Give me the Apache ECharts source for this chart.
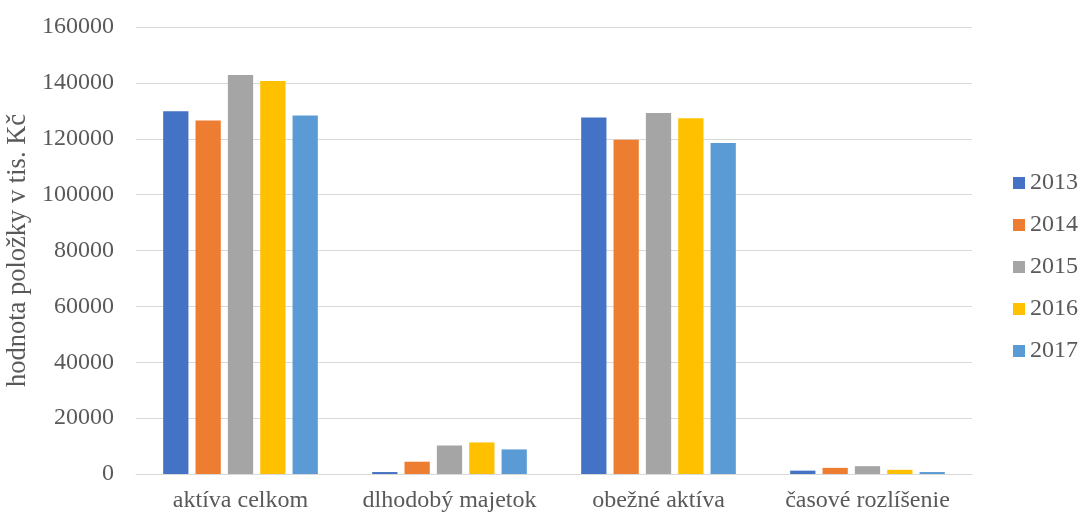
<!DOCTYPE html>
<html>
<head>
<meta charset="utf-8">
<script src="https://cdn.jsdelivr.net/npm/echarts@6/dist/echarts.min.js"></script>
<style>
  html, body { margin: 0; padding: 0; background: #fff; }
  #chart { width: 1082px; height: 513px; }
</style>
</head>
<body>
<div id="chart"></div>
<script>
// Balance sheet items, thousands CZK
const categories = ['aktíva celkom', 'dlhodobý majetok', 'obežné aktíva', 'časové rozlíšenie'];
const years = ['2013', '2014', '2015', '2016', '2017'];
const v2013 = [129800, 700, 127600, 1200];
const v2014 = [126500, 4400, 119600, 2200];
const v2015 = [142800, 10200, 129200, 2800];
const v2016 = [140700, 11300, 127300, 1500];
const v2017 = [128300, 8800, 118500, 700];
const seriesValues = [v2013, v2014, v2015, v2016, v2017];
const colors = ['#4472C4', '#ED7D31', '#A5A5A5', '#FFC000', '#5B9BD5'];

const font = 'Liberation Serif';
const textColor = '#595959';

const chart = echarts.init(document.getElementById('chart'), null, { renderer: 'canvas' });
chart.setOption({
  animation: false,
  color: colors,
  textStyle: { fontFamily: font },
  grid: { left: 136, right: 110, top: 27, bottom: 39, containLabel: false, outerBoundsMode: 'none' },
  legend: {
    orient: 'vertical',
    left: 1008,
    top: 166,
    itemWidth: 12,
    itemHeight: 12,
    itemGap: 18,
    icon: 'rect',
    textStyle: { fontFamily: font, fontSize: 24, color: textColor },
    data: years
  },
  xAxis: {
    type: 'category',
    data: categories,
    axisLine: { lineStyle: { color: '#D9D9D9', width: 1 } },
    axisTick: { show: false },
    axisLabel: { fontFamily: font, fontSize: 24, color: textColor, margin: 15, interval: 0 }
  },
  yAxis: {
    type: 'value',
    min: 0,
    max: 160000,
    interval: 20000,
    name: 'hodnota položky v tis. Kč',
    nameLocation: 'middle',
    nameGap: 87,
    nameRotate: 90,
    nameTextStyle: { fontFamily: font, fontSize: 26.5, color: textColor },
    axisLine: { show: false },
    axisTick: { show: false },
    splitLine: { lineStyle: { color: '#D9D9D9', width: 1 } },
    axisLabel: {
      fontFamily: font, fontSize: 24, color: textColor, margin: 22,
      formatter: (v) => String(v)
    }
  },
  series: years.map((y, i) => ({
    name: y,
    type: 'bar',
    data: seriesValues[i],
    barGap: '28%',
    barCategoryGap: '26%'
  }))
});
</script>
</body>
</html>
